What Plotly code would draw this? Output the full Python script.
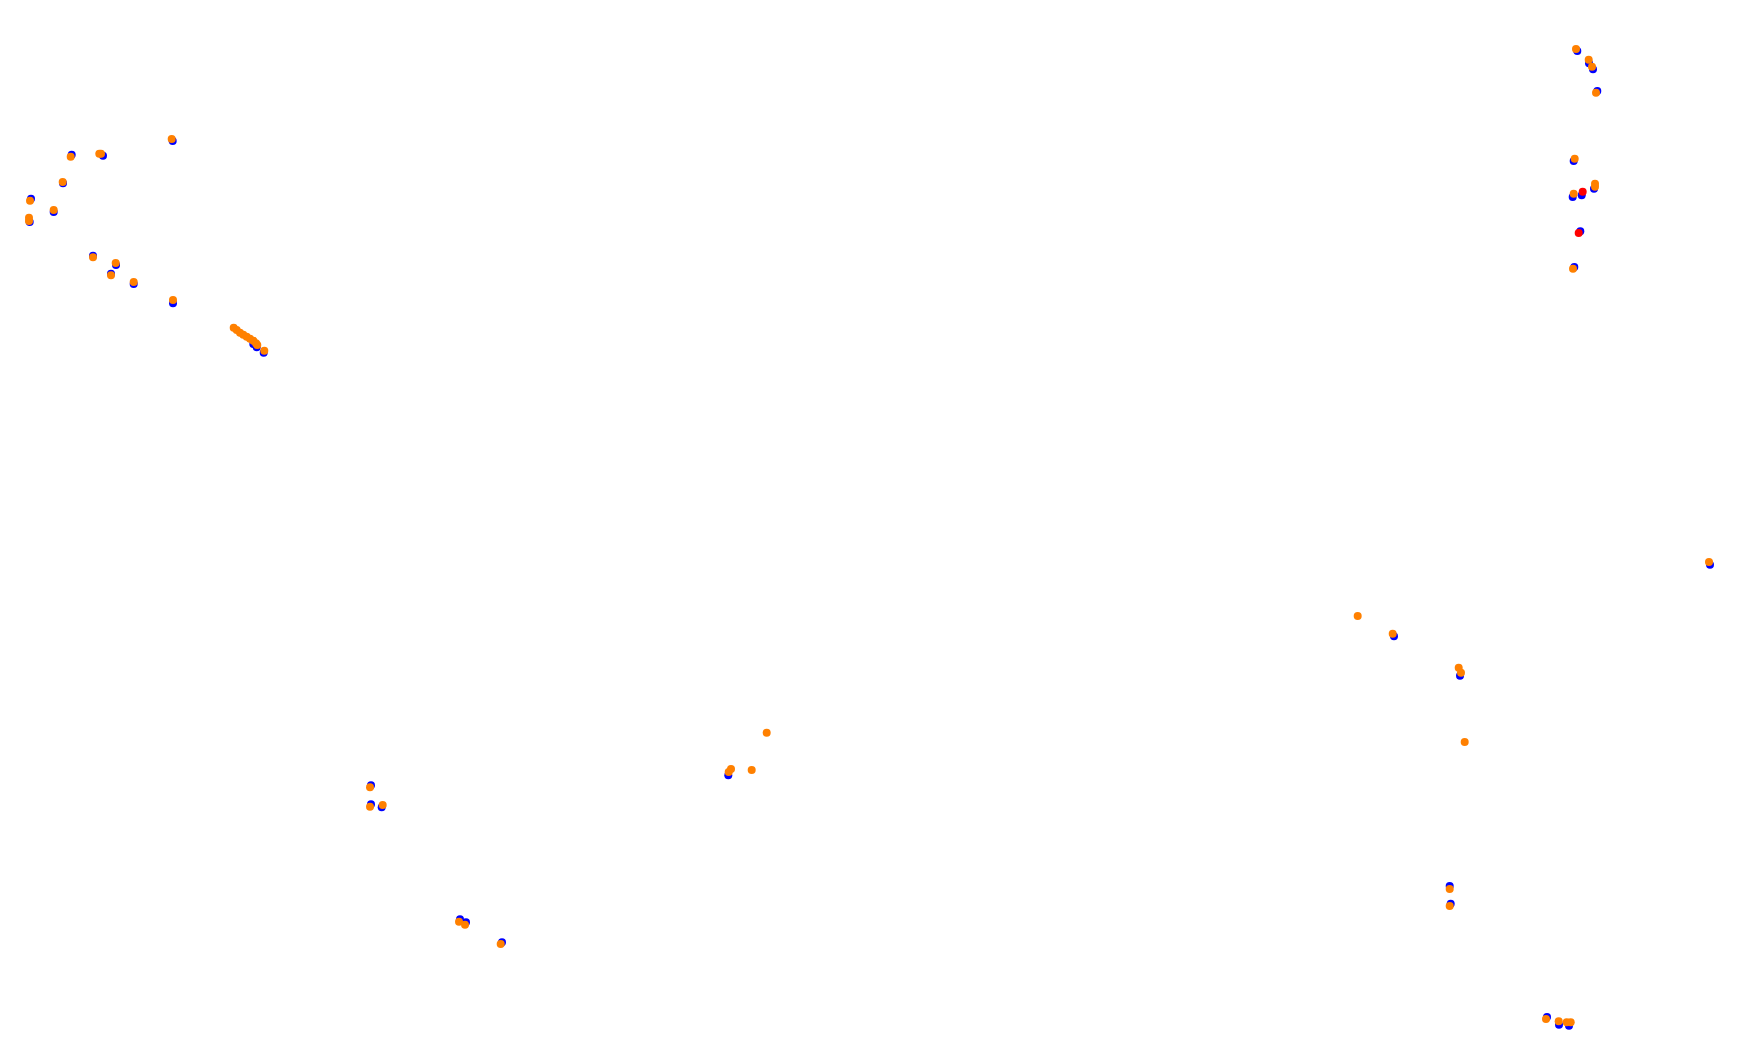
import plotly.graph_objects as go

# Point positions (plot units, y grows downward)
blue_x = [172.7, 71.7, 103, 63, 31, 53.7, 29.7, 93, 116, 111, 133.7, 173, 253.3, 256.7, 263.7,
          1577.3, 1589, 1593, 1597.3, 1573.7, 1594, 1572.7, 1581.7, 1580.3, 1574.3,
          371, 371, 381.7, 460, 466, 502,
          728.3, 1394, 1460, 1449.7, 1450.7, 1547, 1559, 1569, 1710]
blue_y = [141, 154.7, 155.7, 183.3, 198.7, 212, 222, 255.7, 265, 273.7, 284, 303.3, 344, 347.3, 352.7,
          51, 63.3, 69.3, 91, 161, 188.7, 197, 195.3, 231.3, 267,
          785.3, 804.3, 807.3, 919.3, 922.3, 942.3,
          775.3, 636.3, 675.7, 886, 903.7, 1017, 1024.7, 1025.7, 564.7]

red_x = [1582.7, 1578.7]
red_y = [191.7, 233]

orange_x = [171.7, 70.7, 101, 99.3, 62.7, 30, 53.7, 29, 29, 93, 115.7, 111, 133.7, 173,
            233.7, 236.7, 240, 243.3, 246.7, 250, 253.3, 256, 257.3, 264.3,
            1576, 1588.7, 1592, 1596, 1574.7, 1595, 1595, 1573.7, 1573,
            370, 370, 382.7, 459, 465, 500.7,
            766.7, 751.7, 731, 728.7,
            1357.7, 1392.7, 1458.7, 1461, 1464.7,
            1449.7, 1449.7, 1546, 1558.7, 1566.7, 1570.7, 1709]
orange_y = [139, 156.7, 153.7, 153.7, 182, 200.7, 210, 217.7, 221, 257.3, 263, 275.3, 282, 300,
            327.7, 330, 332.7, 334.7, 336.7, 338.7, 340.7, 343.3, 345, 350.7,
            49, 59.7, 66.7, 92.7, 158.7, 183.7, 186.7, 193.7, 268.7,
            787.3, 806.7, 805, 921.7, 924.7, 944,
            732.7, 770, 769, 772,
            616, 633.7, 667.7, 672.7, 742,
            889, 906, 1019, 1021.3, 1022.3, 1022.3, 562]

fig = go.Figure()
fig.add_trace(go.Scatter(x=blue_x, y=blue_y, mode="markers",
                         marker=dict(color="#0000FF", size=8, line=dict(width=0)), name="blue"))
fig.add_trace(go.Scatter(x=orange_x, y=orange_y, mode="markers",
                         marker=dict(color="#FF8000", size=8, line=dict(width=0)), name="orange"))
fig.add_trace(go.Scatter(x=red_x, y=red_y, mode="markers",
                         marker=dict(color="#FF0000", size=8, line=dict(width=0)), name="red"))

fig.update_layout(
    width=1748, height=1055,
    margin=dict(l=0, r=0, t=0, b=0),
    paper_bgcolor="white", plot_bgcolor="white",
    showlegend=False,
    xaxis=dict(range=[8, 1756], visible=False, showgrid=False, zeroline=False),
    yaxis=dict(range=[1063, 8], visible=False, showgrid=False, zeroline=False),
)
fig.write_html("out.html", config={"displayModeBar": False})
